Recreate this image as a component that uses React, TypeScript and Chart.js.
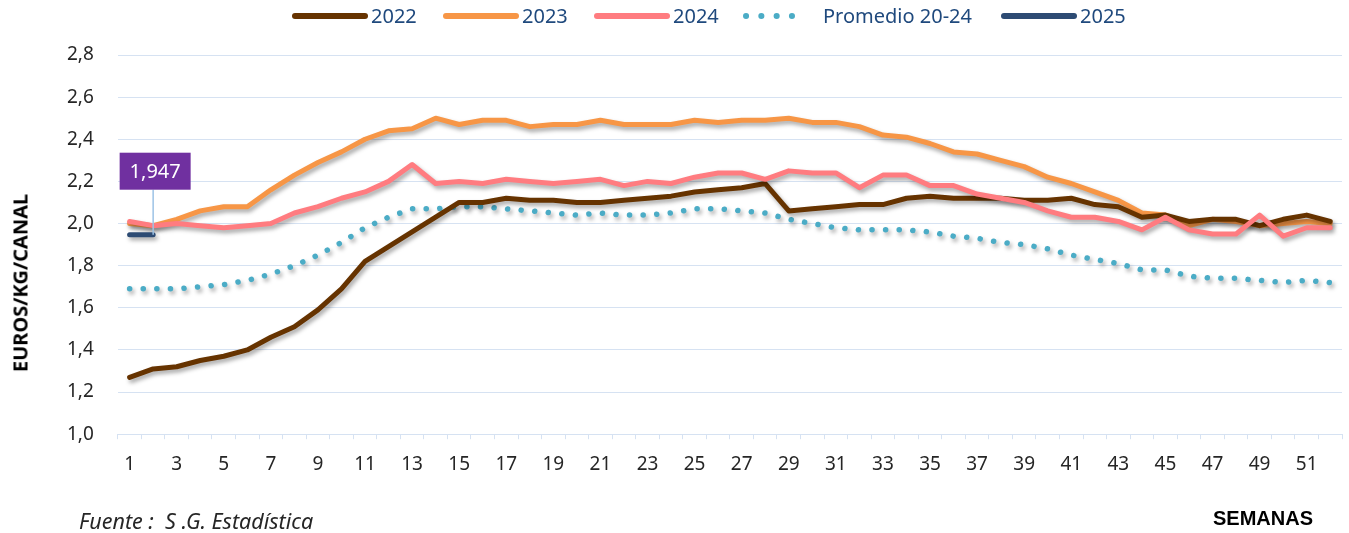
import React, { useEffect, useRef } from 'react';
import { Chart, registerables } from 'chart.js';

Chart.register(...registerables);

const weeks = ['1','2','3','4','5','6','7','8','9','10','11','12','13','14','15','16','17','18','19','20','21','22','23','24','25','26','27','28','29','30','31','32','33','34','35','36','37','38','39','40','41','42','43','44','45','46','47','48','49','50','51','52'];

const s2022 = [1.27,1.31,1.32,1.35,1.37,1.40,1.46,1.51,1.59,1.69,
  1.82,1.89,1.96,2.03,2.10,2.10,2.12,2.11,2.11,2.10,
  2.10,2.11,2.12,2.13,2.15,2.16,2.17,2.19,2.06,2.07,
  2.08,2.09,2.09,2.12,2.13,2.12,2.12,2.12,2.11,2.11,
  2.12,2.09,2.08,2.03,2.04,2.01,2.02,2.02,1.99,2.02,2.04,2.01];

const s2023 = [2.00,1.99,2.02,2.06,2.08,2.08,2.16,2.23,2.29,2.34,
  2.40,2.44,2.45,2.50,2.47,2.49,2.49,2.46,2.47,2.47,
  2.49,2.47,2.47,2.47,2.49,2.48,2.49,2.49,2.50,2.48,
  2.48,2.46,2.42,2.41,2.38,2.34,2.33,2.30,2.27,2.22,
  2.19,2.15,2.11,2.05,2.04,1.99,2.02,2.01,1.99,2.00,2.01,2.00];

const s2024 = [2.01,1.99,2.00,1.99,1.98,1.99,2.00,2.05,2.08,2.12,
  2.15,2.20,2.28,2.19,2.20,2.19,2.21,2.20,2.19,2.20,
  2.21,2.18,2.20,2.19,2.22,2.24,2.24,2.21,2.25,2.24,
  2.24,2.17,2.23,2.23,2.18,2.18,2.14,2.12,2.10,2.06,
  2.03,2.03,2.01,1.97,2.03,1.97,1.95,1.95,2.04,1.94,1.98,1.98];

const sProm = [1.69,1.69,1.69,1.70,1.71,1.73,1.76,1.80,1.85,1.91,
  1.98,2.03,2.07,2.07,2.08,2.08,2.07,2.06,2.05,2.04,
  2.05,2.04,2.04,2.05,2.07,2.07,2.06,2.05,2.02,2.00,
  1.98,1.97,1.97,1.97,1.96,1.94,1.93,1.91,1.90,1.88,
  1.85,1.83,1.81,1.78,1.78,1.75,1.74,1.74,1.73,1.72,1.73,1.72];

const s2025 = [1.947, 1.947];

const seriesNames = ['2022', '2023', '2024', 'Promedio 20-24', '2025'];
const seriesColors = ['#663300', '#F79646', '#FF7C80', '#4BACC6', '#2D4B73'];
const legendLeft = [292, 443, 594, 743, 1001];
const calloutText = '1,947';
const yTitle = 'EUROS/KG/CANAL';
const xTitle = 'SEMANAS';
const sourceText = 'Fuente :  S .G. Estadística';

const FONT = "'Noto Sans', 'Open Sans', sans-serif";
const GRID = '#D6E2F2';

const shadowPlugin = {
  id: 'lineShadow',
  beforeDatasetDraw(chart: any) {
    const ctx = chart.ctx;
    ctx.save();
    ctx.shadowColor = 'rgba(0,0,0,0.35)';
    ctx.shadowBlur = 4;
    ctx.shadowOffsetX = 2;
    ctx.shadowOffsetY = 3;
  },
  afterDatasetDraw(chart: any) {
    chart.ctx.restore();
  },
};

const calloutPlugin = {
  id: 'callout',
  afterDatasetsDraw(chart: any) {
    const meta = chart.getDatasetMeta(4);
    if (!meta || !meta.data[1]) return;
    const pt = meta.data[1];
    const ctx = chart.ctx;
    const bw = 71, bh = 37;
    const cx = pt.x + 2;
    const bottom = pt.y - 45;
    ctx.save();
    ctx.strokeStyle = '#9DC3E6';
    ctx.lineWidth = 1.5;
    ctx.beginPath();
    ctx.moveTo(pt.x, pt.y);
    ctx.lineTo(pt.x, bottom);
    ctx.stroke();
    ctx.fillStyle = '#7030A0';
    ctx.fillRect(cx - bw / 2, bottom - bh, bw, bh);
    ctx.fillStyle = '#FFFFFF';
    ctx.font = `20px ${FONT}`;
    ctx.textAlign = 'center';
    ctx.textBaseline = 'middle';
    ctx.fillText(calloutText, cx, bottom - bh / 2 + 1);
    ctx.restore();
  },
};

function LegendItem({ i }: { i: number }) {
  const dotted = i === 3;
  return (
    <div style={{ position: 'absolute', left: legendLeft[i], top: 2, height: 28, display: 'flex', alignItems: 'center', whiteSpace: 'nowrap' }}>
      <svg width={dotted ? 68 : 76} height={10} style={{ display: 'block' }}>
        {dotted ? (
          <line x1={3} y1={5} x2={64} y2={5} stroke={seriesColors[i]} strokeWidth={6} strokeLinecap="round" strokeDasharray="0.1 15.2" />
        ) : (
          <line x1={3} y1={5} x2={73} y2={5} stroke={seriesColors[i]} strokeWidth={6} strokeLinecap="round" />
        )}
      </svg>
      <span style={{ marginLeft: dotted ? 12 : 3, fontFamily: FONT, fontSize: 20, color: '#1F497D', lineHeight: '28px' }}>{seriesNames[i]}</span>
    </div>
  );
}

export default function App() {
  const ref = useRef<HTMLCanvasElement | null>(null);

  useEffect(() => {
    if (!ref.current) return;
    const seriesData = [s2022, s2023, s2024, sProm, s2025];
    const drawOrder = [2, 3, 1, 4, 0];
    const datasets = seriesData.map((d, i) => ({
      label: seriesNames[i],
      data: d,
      borderColor: seriesColors[i],
      backgroundColor: seriesColors[i],
      borderWidth: i === 3 ? 5.5 : 5,
      borderDash: i === 3 ? [0.1, 13.5] : [],
      borderCapStyle: 'round' as const,
      borderJoinStyle: 'round' as const,
      pointRadius: 0,
      tension: 0,
      fill: false,
      order: drawOrder[i],
    }));

    const chart = new Chart(ref.current, {
      type: 'line',
      data: { labels: weeks, datasets },
      plugins: [shadowPlugin, calloutPlugin],
      options: {
        animation: false,
        responsive: true,
        maintainAspectRatio: false,
        layout: { padding: { left: 43, right: 7, top: 55, bottom: 43 } },
        plugins: {
          tooltip: { enabled: false },
          legend: { display: false },
        },
        scales: {
          x: {
            type: 'category',
            offset: true,
            grid: { offset: true, drawOnChartArea: false, color: GRID, tickLength: 5 },
            border: { color: GRID },
            ticks: {
              autoSkip: false,
              maxRotation: 0,
              color: '#262626',
              padding: 14,
              font: { family: FONT, size: 19 },
              callback: (_v: any, i: number) => (i % 2 === 0 ? weeks[i] : ''),
            },
          },
          y: {
            min: 1,
            max: 2.8,
            grid: { color: GRID, drawTicks: false },
            border: { display: false },
            ticks: {
              stepSize: 0.2,
              color: '#262626',
              padding: 24,
              font: { family: FONT, size: 19 },
              callback: (v: any) => Number(v).toFixed(1).replace('.', ','),
            },
          },
        },
      },
    });
    return () => chart.destroy();
  }, []);

  return (
    <div style={{ position: 'fixed', left: 0, top: 0, width: 1349, height: 533, background: '#FFFFFF', overflow: 'hidden' }}>
      <canvas ref={ref} />
      {seriesNames.map((_, i) => <LegendItem key={i} i={i} />)}
      <div style={{ position: 'absolute', left: 20, top: 283, width: 0, height: 0 }}>
        <div style={{ position: 'absolute', left: 0, top: 0, transform: 'translate(-50%, -50%) rotate(-90deg)', fontFamily: FONT, fontWeight: 'bold', fontSize: 20, color: '#000000', whiteSpace: 'nowrap' }}>
          {yTitle}
        </div>
      </div>
      <div style={{ position: 'absolute', left: 79, top: 506, fontFamily: FONT, fontStyle: 'italic', fontSize: 21.5, color: '#262626', whiteSpace: 'pre' }}>
        {sourceText}
      </div>
      <div style={{ position: 'absolute', left: 1213, top: 507, fontFamily: "'Liberation Sans', Arial, sans-serif", fontWeight: 'bold', fontSize: 20, color: '#000000' }}>
        {xTitle}
      </div>
    </div>
  );
}
